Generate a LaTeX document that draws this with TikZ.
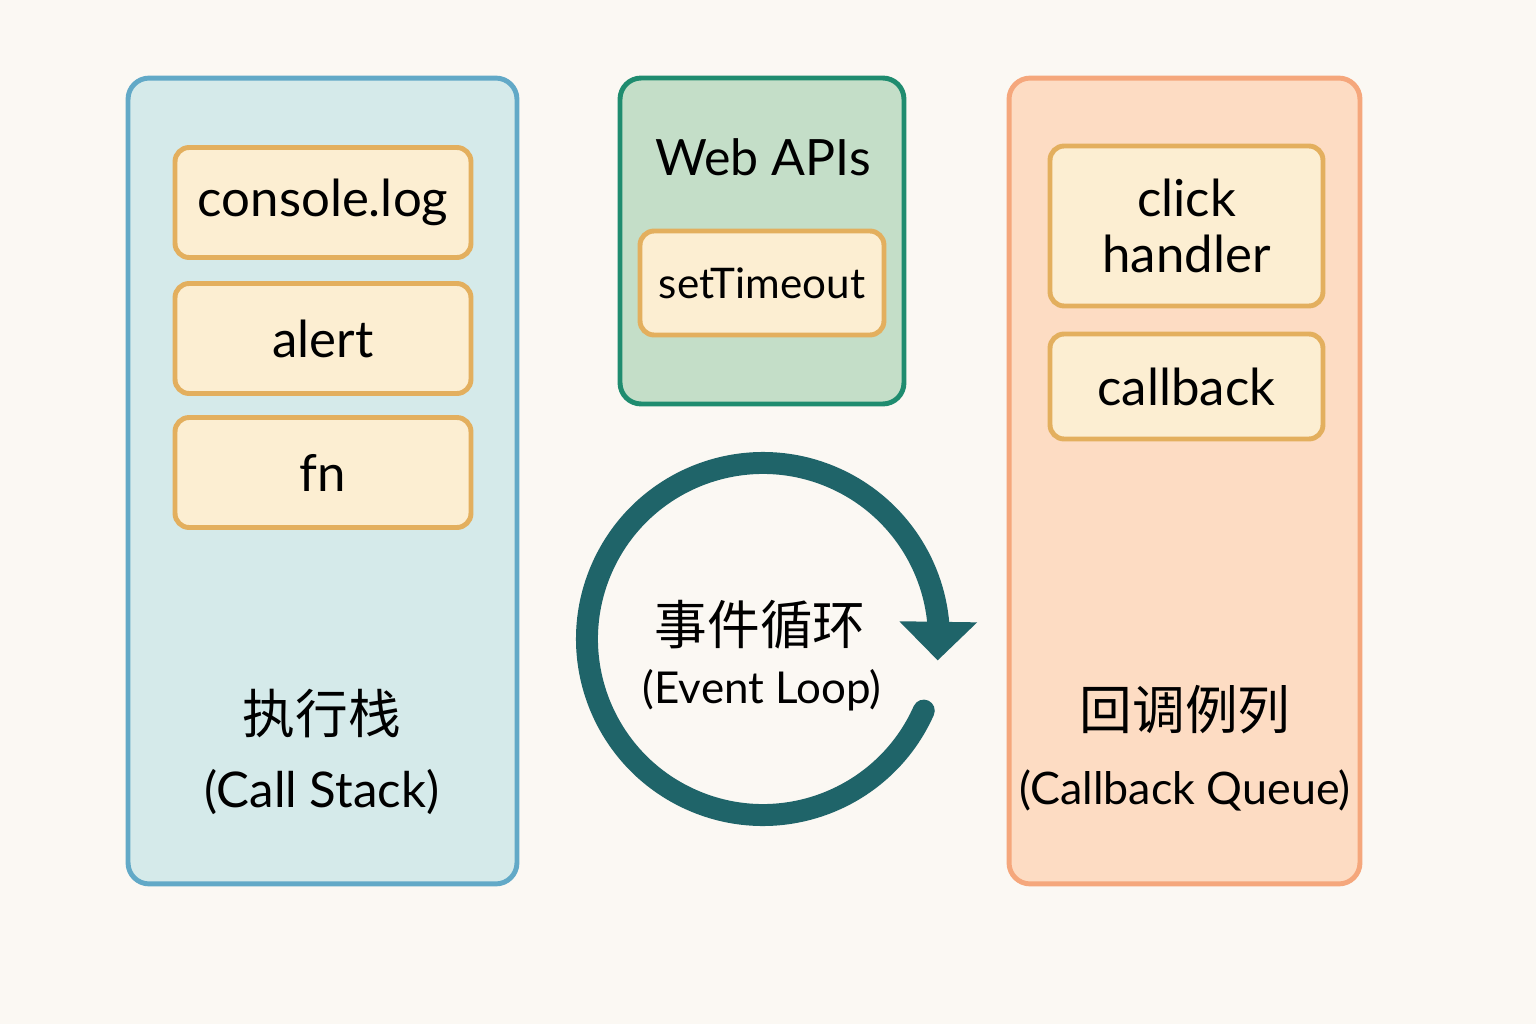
\documentclass[tikz,border=0pt]{standalone}
\usepackage{fontspec}
\setmainfont{Lato}
\newfontfamily\cjk{Noto Sans CJK SC}
\usetikzlibrary{arrows.meta,bending}

\definecolor{bgcol}{HTML}{FBF8F3}
\definecolor{stackfill}{HTML}{D5EAEA}
\definecolor{stackline}{HTML}{62A9C7}
\definecolor{webfill}{HTML}{C4DEC8}
\definecolor{webline}{HTML}{1F8C6F}
\definecolor{queuefill}{HTML}{FDDCC3}
\definecolor{queueline}{HTML}{F5A77C}
\definecolor{itemfill}{HTML}{FCEED2}
\definecolor{itemline}{HTML}{E3AF5E}
\definecolor{loopcol}{HTML}{1F6469}

\begin{document}
\begin{tikzpicture}[x=0.02cm,y=-0.02cm,
    panel/.style={draw, line width=2.8pt, rounded corners=12pt, inner sep=0pt},
    callframe/.style={draw=itemline, fill=itemfill, line width=2.8pt, rounded corners=8pt,
        inner sep=0pt, align=center, font=\fontsize{29}{32}\selectfont},
    title/.style={font=\cjk\fontsize{30}{36}\selectfont},
    subtitle/.style={font=\fontsize{28}{30}\selectfont}]
    \path[fill=bgcol] (0,0) rectangle (1536,1024);
    % three panels
    \node[panel, draw=stackline, fill=stackfill, minimum width=7.78cm, minimum height=16.12cm] (stack) at (322.5,481) {};
    \node[panel, draw=webline, fill=webfill, minimum width=5.68cm, minimum height=6.52cm] (webapi) at (762,241) {};
    \node[panel, draw=queueline, fill=queuefill, minimum width=7.02cm, minimum height=16.12cm] (queue) at (1184.5,481) {};
    % call stack
    \foreach \name/\txt/\y in {conlog/console.log/202.5, alert/alert/338.5, fn/fn/472.5}
    {
        \node[callframe, minimum width=5.92cm, minimum height=2.2cm] (\name) at (323,\y) {\txt};
    }
    \node[title] (stacktitle) at (322,714) {执行栈};
    \node[subtitle] (stacksub) at (322,792) {(Call Stack)};
    % web apis
    \node[font=\fontsize{28.5}{32}\selectfont] (webtitle) at (763,157) {Web APIs};
    \node[callframe, minimum width=4.88cm, minimum height=2.08cm, font=\fontsize{24}{26}\selectfont] (timeout) at (762,283) {setTimeout};
    % callback queue
    \node[callframe, minimum width=5.46cm, minimum height=3.2cm] (click) at (1186.5,226) {click\\handler};
    \node[callframe, minimum width=5.46cm, minimum height=2.1cm] (cb) at (1186.5,386.5) {callback};
    \node[title] (queuetitle) at (1185,710) {回调例列};
    \node[subtitle, font=\fontsize{25.5}{30}\selectfont] (queuesub) at (1185,790) {(Callback Queue)};
    % event loop
    \coordinate (loopc) at (763,639);
    \draw[loopcol, line width=12.5pt, line cap=round, -{Triangle[length=22pt,width=43pt,flex]}]
        ([shift={(24:176)}]loopc) arc[start angle=24, end angle=367, radius=176];
    \node[title] (looptitle) at (760,625) {事件循环};
    \node[subtitle, font=\fontsize{25}{28}\selectfont] (loopsub) at (762,690) {(Event Loop)};
\end{tikzpicture}
\end{document}
